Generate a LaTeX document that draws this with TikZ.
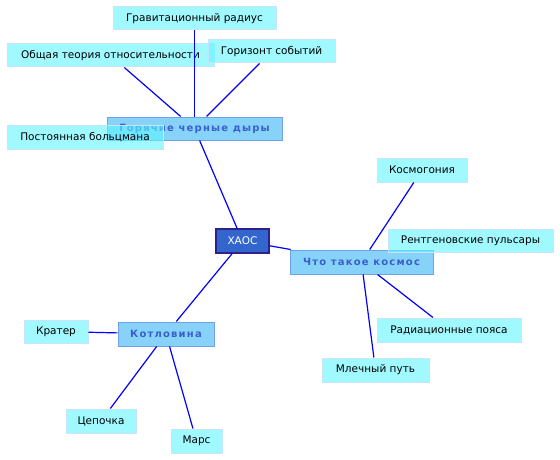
\documentclass[tikz,border=0pt]{standalone}
\usepackage{fontspec}
\setmainfont{DejaVu Sans}
\newfontfamily\catfont[LetterSpace=12]{DejaVu Sans Bold}
\definecolor{leaffill}{RGB}{95,245,255}
\definecolor{leafborder}{RGB}{200,228,250}
\definecolor{catfill}{RGB}{128,208,248}
\definecolor{catborder}{RGB}{112,160,232}
\definecolor{cattext}{RGB}{58,95,205}
\definecolor{chaosfill}{RGB}{51,102,204}
\definecolor{chaosborder}{RGB}{48,32,140}
\definecolor{linkblue}{RGB}{0,0,255}
\tikzset{
  box/.style={inner sep=0pt, align=center, line width=1pt},
  leaf/.style={box, draw=leafborder, fill=leaffill, fill opacity=0.6, text opacity=1,
    font=\fontsize{10.5}{12}\selectfont, text=black},
  cat/.style={box, draw=catborder, fill=catfill, fill opacity=0.95, text opacity=1,
    font=\catfont\fontsize{10}{12}\selectfont, text=cattext},
  hub/.style={box, draw=chaosborder, fill=chaosfill, line width=1.2pt,
    font=\fontsize{10.5}{12}\selectfont, text=white},
  link/.style={draw=linkblue, line width=1.2pt},
  sz/.style 2 args={minimum width=#1pt, minimum height=#2pt}
}
\begin{document}
\begin{tikzpicture}[x=1pt,y=-1pt]
\useasboundingbox (0,0) rectangle (560,460);
% hub and categories
\node[hub, sz={53}{24}] (chaos) at (242.5,241) {ХАОС};
\node[cat, sz={175}{23}] (hot) at (194.5,128.5) {Горячие черные дыры};
\node[cat, sz={143}{24}] (what) at (361.5,262) {Что такое космос};
\node[cat, sz={96}{24}] (kotl) at (166,334) {Котловина};
% leaves
\node[leaf, sz={163}{23}] (grav) at (194.5,18.5) {Гравитационный радиус};
\node[leaf, sz={207}{23}] (obsh) at (110.5,55.5) {Общая теория относительности};
\node[leaf, sz={127}{23}] (gor) at (271.5,51.5) {Горизонт событий};
\node[leaf, sz={156}{24}] (post) at (85,137) {Постоянная больцмана};
\node[leaf, sz={90}{24}] (kosmog) at (422,170) {Космогония};
\node[leaf, sz={165}{23}] (rent) at (470.5,240.5) {Рентгеновские пульсары};
\node[leaf, sz={144}{24}] (rad) at (449,330) {Радиационные пояса};
\node[leaf, sz={107}{24}] (milky) at (375.5,370) {Млечный путь};
\node[leaf, sz={64}{23}] (krat) at (56,331.5) {Кратер};
\node[leaf, sz={70}{24}] (chain) at (101,421) {Цепочка};
\node[leaf, sz={51}{24}] (mars) at (196.5,441) {Марс};
% connectors
\draw[link] (grav) -- (hot);
\draw[link] (obsh) -- (hot);
\draw[link] (gor) -- (hot);
\draw[link] (hot) -- (chaos);
\draw[link] (chaos) -- (what);
\draw[link] (what) -- (kosmog);
\draw[link] (what) -- (rad);
\draw[link] (what) -- (milky);
\draw[link] (chaos) -- (kotl);
\draw[link] (kotl) -- (krat);
\draw[link] (kotl) -- (chain);
\draw[link] (kotl) -- (mars);
\end{tikzpicture}
\end{document}
